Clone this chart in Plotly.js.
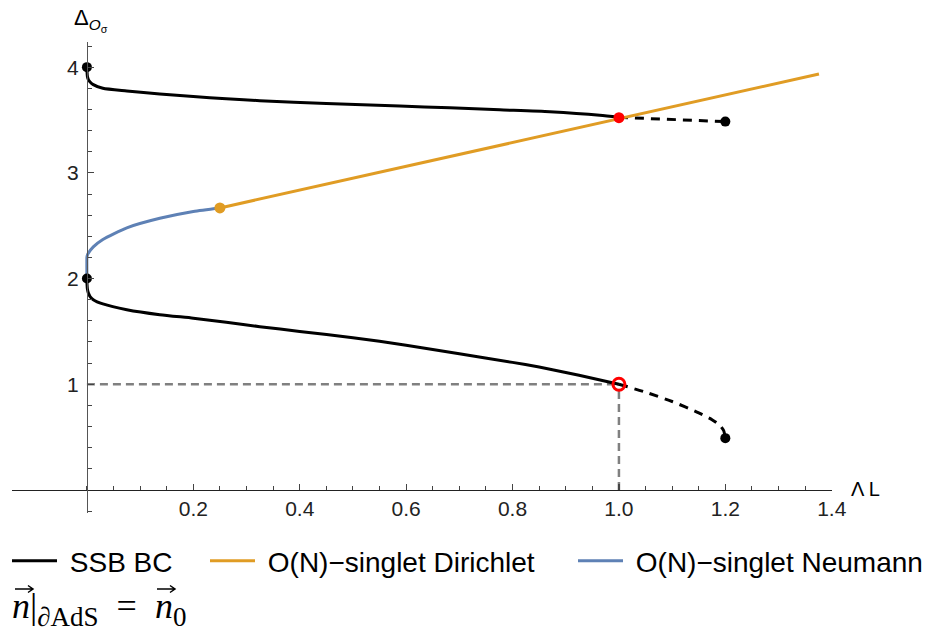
<!DOCTYPE html>
<html>
<head>
<meta charset="utf-8">
<script src="https://cdn.plot.ly/plotly-3.0.1.min.js"></script>
<style>html,body{margin:0;padding:0;background:#fff;}#chart{width:939px;height:631px;}</style>
</head>
<body>
<div id="chart"></div>
<script>
// ---- data ----
// SSB BC, upper branch (solid)
const ssbUpperX = [0, 0.0003, 0.001, 0.003, 0.006, 0.012, 0.03, 0.075, 0.137, 0.2, 0.262, 0.325, 0.45, 0.588, 0.682, 0.776, 0.87, 0.964, 1.0];
const ssbUpperY = [4.0, 3.95, 3.91, 3.88, 3.86, 3.835, 3.80, 3.775, 3.745, 3.722, 3.70, 3.683, 3.655, 3.632, 3.615, 3.596, 3.578, 3.545, 3.525];
// SSB BC, upper branch continuation (dashed)
const ssbUpperDashX = [1.0, 1.05, 1.1, 1.15, 1.2];
const ssbUpperDashY = [3.525, 3.515, 3.505, 3.495, 3.485];
// SSB BC, lower branch (solid)
const ssbLowerX = [0, 0.0003, 0.001, 0.003, 0.006, 0.012, 0.03, 0.075, 0.137, 0.2, 0.262, 0.325, 0.4, 0.5, 0.6, 0.7, 0.8, 0.85, 0.9, 0.95, 1.0];
const ssbLowerY = [2.0, 1.94, 1.90, 1.86, 1.83, 1.80, 1.76, 1.705, 1.658, 1.625, 1.587, 1.545, 1.50, 1.44, 1.37, 1.288, 1.207, 1.163, 1.112, 1.057, 1.0];
// SSB BC, lower branch continuation (dashed)
const ssbLowerDashX = [1.0, 1.05, 1.1, 1.15, 1.175, 1.19, 1.197, 1.2];
const ssbLowerDashY = [1.0, 0.925, 0.837, 0.73, 0.665, 0.61, 0.56, 0.49];
// O(N)-singlet Dirichlet
const dirX = [0.25, 1.376];
const dirY = [2.668, 3.935];
// O(N)-singlet Neumann
const neuX = [0, 0, 0.0005, 0.002, 0.012, 0.03, 0.075, 0.137, 0.2, 0.25];
const neuY = [2.0, 2.2, 2.215, 2.235, 2.30, 2.37, 2.48, 2.57, 2.635, 2.668];
// end points
const blackDotX = [0, 0, 1.2, 1.2];
const blackDotY = [4.0, 2.0, 3.485, 0.49];
const redDotX = [1.0]; const redDotY = [3.522];
const redOpenX = [1.0]; const redOpenY = [1.0];
const orangeDotX = [0.25]; const orangeDotY = [2.668];
// reference guide lines
const guideHX = [0, 1.0]; const guideHY = [1.0, 1.0];
const guideVX = [1.0, 1.0]; const guideVY = [0, 1.0];
// ticks
const xTickVals = [0.2, 0.4, 0.6, 0.8, 1.0, 1.2, 1.4];
const xTickText = ['0.2', '0.4', '0.6', '0.8', '1.0', '1.2', '1.4'];
const yTickVals = [1, 2, 3, 4];
const yTickText = ['1', '2', '3', '4'];
const legendNames = ['SSB BC', 'O(N)\u2212singlet Dirichlet', 'O(N)\u2212singlet Neumann'];

const BLACK = '#000000', ORANGE = '#E09C24', BLUE = '#5E81B5', RED = '#FF0000', GRAY = '#808080';
const NB = '\u00a0';

const traces = [
  {x: guideHX, y: guideHY, mode: 'lines', line: {color: GRAY, width: 2.5, dash: '8px,5px'}, showlegend: false, hoverinfo: 'skip'},
  {x: guideVX, y: guideVY, mode: 'lines', line: {color: GRAY, width: 2.5, dash: '8px,5px'}, showlegend: false, hoverinfo: 'skip'},
  {x: ssbUpperX, y: ssbUpperY, mode: 'lines', name: NB + legendNames[0], legend: 'legend', line: {color: BLACK, width: 3, shape: 'spline', smoothing: 0.6}},
  {x: ssbLowerX, y: ssbLowerY, mode: 'lines', line: {color: BLACK, width: 3, shape: 'spline', smoothing: 0.6}, showlegend: false},
  {x: ssbUpperDashX, y: ssbUpperDashY, mode: 'lines', line: {color: BLACK, width: 3, dash: '9px,7px'}, showlegend: false},
  {x: ssbLowerDashX, y: ssbLowerDashY, mode: 'lines', line: {color: BLACK, width: 3, dash: '9px,7px', shape: 'spline', smoothing: 0.6}, showlegend: false},
  {x: neuX, y: neuY, mode: 'lines', name: NB + legendNames[2], legend: 'legend3', line: {color: BLUE, width: 3, shape: 'spline', smoothing: 0.6}},
  {x: dirX, y: dirY, mode: 'lines', name: NB + legendNames[1], legend: 'legend2', line: {color: ORANGE, width: 3}},
  {x: blackDotX, y: blackDotY, mode: 'markers', marker: {color: BLACK, size: 10}, showlegend: false},
  {x: orangeDotX, y: orangeDotY, mode: 'markers', marker: {color: ORANGE, size: 11}, showlegend: false},
  {x: redDotX, y: redDotY, mode: 'markers', marker: {color: RED, size: 11}, showlegend: false},
  {x: redOpenX, y: redOpenY, mode: 'markers', marker: {symbol: 'circle-open', color: RED, size: 12, line: {width: 3, color: RED}}, showlegend: false}
];

const xMin = -0.1408, xMax = 1.4005, yMin = -0.218, yMax = 4.238;
const xMinor = [0]; for (let i = 1; i <= 28; i++) { if (i % 4) xMinor.push(+(i * 0.05).toFixed(2)); }
const yMinor = []; for (let i = -1; i <= 21; i++) { if (i % 5) yMinor.push(+(i * 0.2).toFixed(2)); }

// pixel -> paper helpers (plot area: left 12, width 820, bottom 513, height 471)
const px = v => (v - 12) / 820;
const py = v => (513 - v) / 471;
function vecArrow(x0, x1, y) {
  return {type: 'path', xref: 'paper', yref: 'paper',
          path: `M${px(x0)},${py(y)} L${px(x1)},${py(y)} M${px(x1 - 5)},${py(y - 3.5)} L${px(x1)},${py(y)} L${px(x1 - 5)},${py(y + 3.5)}`,
          line: {color: '#000', width: 1.5}};
}

function legendAt(p) {
  return {orientation: 'h', xref: 'container', yref: 'container', x: p / 939, y: 1 - 536 / 631, xanchor: 'left', yanchor: 'top',
          font: {size: 28, color: '#000'}, itemwidth: 45, bgcolor: 'rgba(0,0,0,0)'};
}

const layout = {
  width: 939, height: 631,
  margin: {l: 12, r: 107, t: 42, b: 118, autoexpand: false},
  paper_bgcolor: '#fff', plot_bgcolor: '#fff',
  font: {family: 'Liberation Sans, Arial, sans-serif', color: '#000'},
  showlegend: true,
  legend: legendAt(7),
  legend2: legendAt(205),
  legend3: legendAt(573),
  xaxis: {range: [xMin, xMax], anchor: 'free', position: (0 - yMin) / (yMax - yMin), automargin: false,
          showgrid: false, zeroline: false, showline: true, linecolor: '#222', linewidth: 1.2,
          tickmode: 'array', tickvals: xTickVals, ticktext: xTickText,
          ticks: 'inside', ticklen: 6, tickwidth: 1.2, tickcolor: '#444',
          tickfont: {size: 21, color: '#222'},
          minor: {tickmode: 'array', tickvals: xMinor, ticks: 'inside', ticklen: 4, tickwidth: 1, tickcolor: '#444'}},
  yaxis: {range: [yMin, yMax], anchor: 'free', position: (0 - xMin) / (xMax - xMin), automargin: false,
          showgrid: false, zeroline: false, showline: true, linecolor: '#555', linewidth: 1.5,
          tickmode: 'array', tickvals: yTickVals, ticktext: yTickText, ticklabelstandoff: 4,
          ticks: 'inside', ticklen: 6, tickwidth: 1.2, tickcolor: '#444',
          tickfont: {size: 21, color: '#222'},
          minor: {tickmode: 'array', tickvals: yMinor, ticks: 'inside', ticklen: 4, tickwidth: 1, tickcolor: '#444'}},
  shapes: [vecArrow(15, 33, 589), vecArrow(157, 175, 589)],
  annotations: [
    {xref: 'paper', yref: 'paper', x: px(72), y: py(20), xanchor: 'left', yanchor: 'middle', showarrow: false,
     text: '\u0394<sub><i>O</i><sub>\u03c3</sub></sub>', font: {size: 22, color: '#000'}},
    {xref: 'paper', yref: 'paper', x: px(849), y: py(489), xanchor: 'left', yanchor: 'middle', showarrow: false,
     text: '\u039b L', font: {size: 20, color: '#000'}},
    {xref: 'paper', yref: 'paper', x: px(10), y: py(609), xanchor: 'left', yanchor: 'middle', showarrow: false,
     text: '<i>n</i>|<sub><span style="font-size:27px">\u2202AdS</span></sub>' + NB + NB + '=' + NB + NB + '<i>n</i><sub><span style="font-size:27px">0</span></sub>',
     font: {size: 36, family: 'Liberation Serif, DejaVu Serif, serif', color: '#000'}}
  ]
};

Plotly.newPlot('chart', traces, layout, {displayModeBar: false, staticPlot: true});
</script>
</body>
</html>
